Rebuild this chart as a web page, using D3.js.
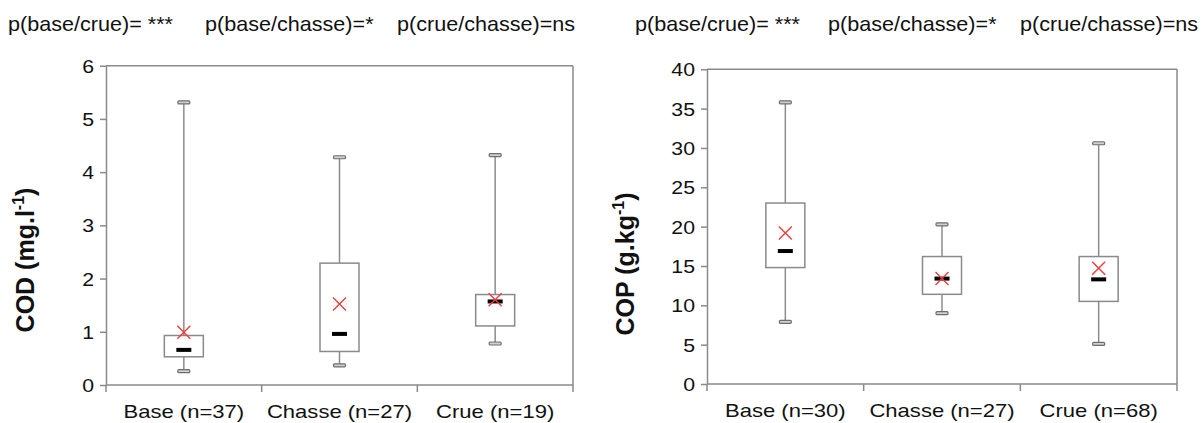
<!DOCTYPE html>
<html><head><meta charset="utf-8">
<script src="https://cdn.jsdelivr.net/npm/d3@7/dist/d3.min.js"></script>
<style>body{margin:0;background:#fff;} svg{display:block;} text{font-family:"Liberation Sans",Arial,sans-serif;fill:#111;}</style>
</head><body>
<svg id="c" width="1201" height="423"></svg>
<script>
// ---- Data ----
const codCategories = ["Base (n=37)", "Chasse (n=27)", "Crue (n=19)"];
const codMin    = [0.26, 0.37, 0.78];
const codQ1     = [0.53, 0.63, 1.11];
const codMedian = [0.66, 0.96, 1.57];
const codQ3     = [0.93, 2.29, 1.70];
const codMax    = [5.31, 4.28, 4.32];
const codMean   = [0.99, 1.52, 1.60];
const codTicks  = [0, 1, 2, 3, 4, 5, 6];

const copCategories = ["Base (n=30)", "Chasse (n=27)", "Crue (n=68)"];
const copMin    = [7.9, 9.0, 5.1];
const copQ1     = [14.8, 11.4, 10.5];
const copMedian = [16.9, 13.4, 13.3];
const copQ3     = [23.0, 16.2, 16.2];
const copMax    = [35.8, 20.3, 30.6];
const copMean   = [19.2, 13.4, 14.7];
const copTicks  = [0, 5, 10, 15, 20, 25, 30, 35, 40];

const pLabels = ["p(base/crue)= ***", "p(base/chasse)=*", "p(crue/chasse)=ns"];

const svg = d3.select("#c");

function stretchedText(g, x, y, str, size, anchor, sx, weight) {
  return g.append("text")
    .attr("transform", `translate(${x},${y}) scale(${sx},1)`)
    .attr("text-anchor", anchor)
    .style("font-size", size + "px")
    .style("font-weight", weight || "normal")
    .text(str);
}

function panel(cfg) {
  const {x0, x1, yTop, yBot, cats, mn, q1, med, q3, mx, mean, ticks, yMax, label, labelX, labelY, pX} = cfg;
  const g = svg.append("g");
  const x = d3.scaleBand().domain(cats).range([x0, x1]);
  const y = d3.scaleLinear().domain([0, yMax]).range([yBot, yTop]);
  const axisCol = "#8a8a8a";

  // frame (top + right)
  g.append("line").attr("x1", x0).attr("x2", x1).attr("y1", yTop).attr("y2", yTop).attr("stroke", axisCol).attr("stroke-width", 1.5);
  g.append("line").attr("x1", x1).attr("x2", x1).attr("y1", yTop).attr("y2", yBot).attr("stroke", axisCol).attr("stroke-width", 1.5);

  // y axis
  const ya = g.append("g").attr("transform", `translate(${x0},0)`)
    .call(d3.axisLeft(y).tickValues(ticks).tickSize(6).tickSizeOuter(0).tickFormat(d3.format("d")));
  ya.select(".domain").attr("stroke", axisCol).attr("stroke-width", 1.5);
  ya.selectAll(".tick line").attr("stroke", axisCol).attr("stroke-width", 1.5);
  ya.selectAll(".tick text").remove();
  ya.selectAll(".tick").each(function(d) {
    stretchedText(d3.select(this), -12, 6.5, d3.format("d")(d), 19, "end", 1.12);
  });

  // x axis: ticks at band boundaries
  const xa = g.append("g").attr("transform", `translate(0,${yBot})`);
  xa.append("line").attr("x1", x0).attr("x2", x1).attr("stroke", axisCol).attr("stroke-width", 1.5);
  const bounds = cats.map(c => x(c)).concat([x1]);
  xa.selectAll("line.tk").data(bounds).join("line").attr("class", "tk")
    .attr("x1", d => d).attr("x2", d => d).attr("y1", 0).attr("y2", 7)
    .attr("stroke", axisCol).attr("stroke-width", 1.5);
  cats.forEach(c => stretchedText(xa, x(c) + x.bandwidth() / 2, 33, c, 19, "middle", 1.16));

  // boxes
  const bw = 39, capW = 12, medW = 15;
  const data = cats.map((c, i) => ({c, mn: mn[i], q1: q1[i], med: med[i], q3: q3[i], mx: mx[i], mean: mean[i]}));
  const bg = g.selectAll("g.box").data(data).join("g").attr("class", "box")
    .attr("transform", d => `translate(${x(d.c) + x.bandwidth() / 2},0)`);
  bg.append("line").attr("x1", 0).attr("x2", 0).attr("y1", d => y(d.mx)).attr("y2", d => y(d.q3))
    .attr("stroke", "#8c8c8c").attr("stroke-width", 1.5);
  bg.append("line").attr("x1", 0).attr("x2", 0).attr("y1", d => y(d.q1)).attr("y2", d => y(d.mn))
    .attr("stroke", "#8c8c8c").attr("stroke-width", 1.5);
  bg.append("rect").attr("x", -bw / 2).attr("width", bw)
    .attr("y", d => y(d.q3)).attr("height", d => y(d.q1) - y(d.q3))
    .attr("fill", "#fff").attr("stroke", "#8a8a8a").attr("stroke-width", 1.5);
  ["mx", "mn"].forEach(k => {
    bg.append("rect").attr("x", -capW / 2).attr("width", capW)
      .attr("y", d => y(d[k]) - 1.5).attr("height", 3).attr("rx", 1)
      .attr("fill", "#d0d0d0").attr("stroke", "#6e6e6e").attr("stroke-width", 1.2);
  });
  bg.append("rect").attr("x", -medW / 2).attr("width", medW)
    .attr("y", d => y(d.med) - 2).attr("height", 4).attr("fill", "#000");
  const s = 6.5;
  bg.append("path")
    .attr("d", d => `M${-s},${y(d.mean) - s}L${s},${y(d.mean) + s}M${-s},${y(d.mean) + s}L${s},${y(d.mean) - s}`)
    .attr("stroke", "#f23c3c").attr("stroke-width", 1.4).attr("fill", "none");

  // y label
  const lt = g.append("text")
    .attr("transform", `translate(${labelX},${labelY}) rotate(-90)`)
    .attr("text-anchor", "middle")
    .style("font-size", "25px").style("font-weight", "bold");
  lt.append("tspan").text(label[0]);
  lt.append("tspan").attr("dy", -10).style("font-size", "16px").text(label[1]);
  lt.append("tspan").attr("dy", 10).text(")");

  // p-values
  pLabels.forEach((t, i) => stretchedText(g, pX[i], 31, t, 20, "start", 1.08));
}

panel({x0: 106, x1: 573, yTop: 65.7, yBot: 385, cats: codCategories,
  mn: codMin, q1: codQ1, med: codMedian, q3: codQ3, mx: codMax, mean: codMean,
  ticks: codTicks, yMax: 6, label: ["COD (mg.l", "-1"], labelX: 34, labelY: 260, pX: [8, 205, 397]});

panel({x0: 707, x1: 1177, yTop: 69.3, yBot: 384, cats: copCategories,
  mn: copMin, q1: copQ1, med: copMedian, q3: copQ3, mx: copMax, mean: copMean,
  ticks: copTicks, yMax: 40, label: ["COP (g.kg", "-1"], labelX: 634, labelY: 264, pX: [635, 828, 1020]});
</script>
</body></html>
